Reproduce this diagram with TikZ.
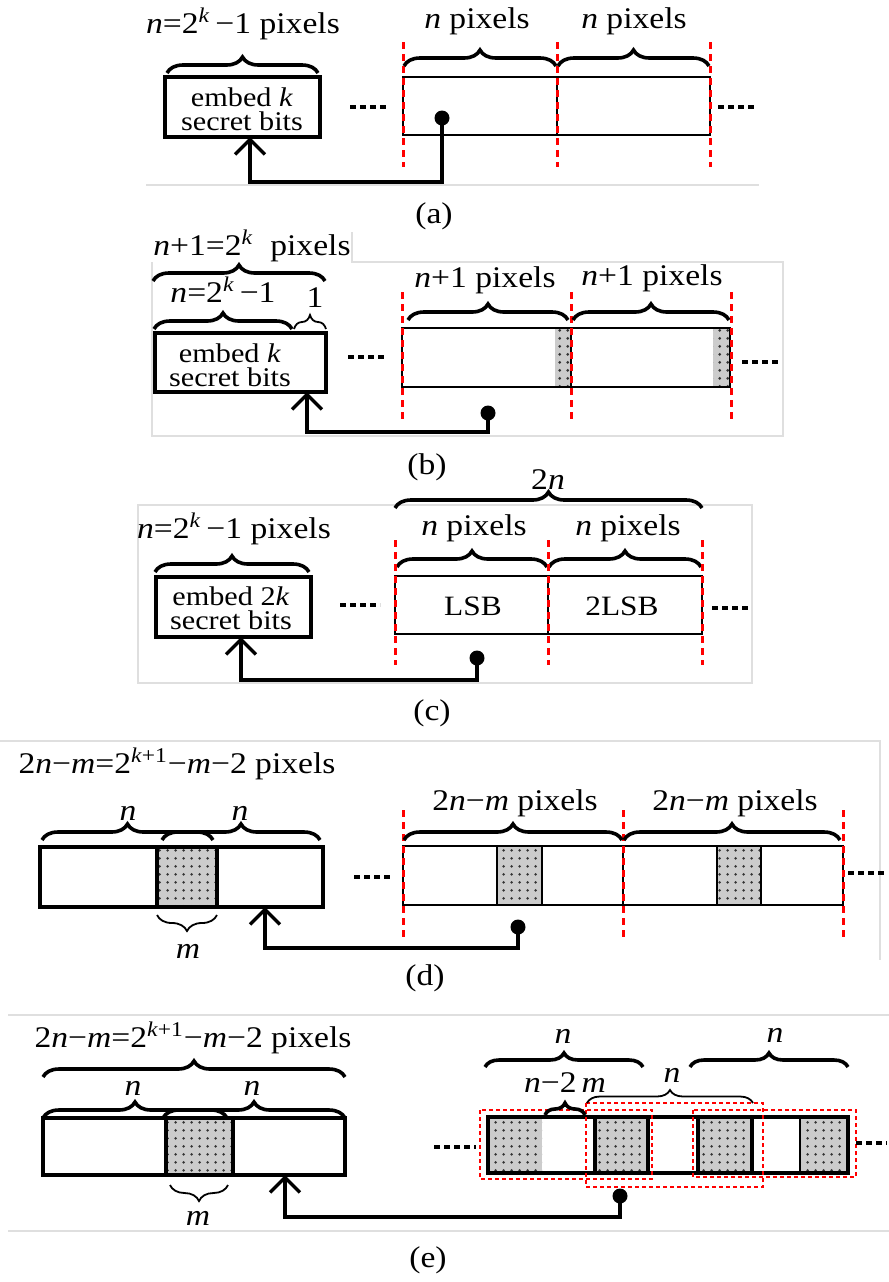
\documentclass[tikz,border=0pt]{standalone}
\usepackage{fontspec}
\setmainfont{Liberation Serif}[FakeStretch=1.12]
\usetikzlibrary{arrows.meta,decorations.pathreplacing,patterns.meta,positioning}

\begin{document}
\begin{tikzpicture}[
    x=0.5pt, y=-0.5pt,
    font=\fontsize{15}{17}\selectfont,
    every node/.style = {inner sep=0pt},
    lbl/.style     = {anchor=base},
    cell/.style    = {draw, line width=1.6pt},
    btxt/.style    = {font=\fontsize{13.5}{12}\selectfont, align=center},
    strip/.style   = {draw, line width=1.3pt},
    pix/.style     = {fill=gray!40, postaction={pattern={Dots[distance=4pt,radius=0.8pt]}, pattern color=black!80}},
    cut/.style     = {red, line width=1.5pt, dash pattern=on 3.5pt off 2.5pt},
    win/.style     = {red, line width=1.2pt, dash pattern=on 2pt off 1.5pt},
    brc/.style     = {decorate, decoration={brace, amplitude=8pt}, line width=1.8pt},
    brcthin/.style = {decorate, decoration={brace, amplitude=8pt}, line width=0.9pt},
    more/.style    = {line width=1.6pt, dash pattern=on 3pt off 2pt},
    tap/.style     = {circle, fill, minimum size=7.5pt},
    conn/.style    = {line width=1.7pt, -{Straight Barb[length=7.5pt, width=15pt]}},
    frame/.style   = {draw=gray!25, line width=0.6pt},
]
\fill[white] (0,0) rectangle (889,1282);
\useasboundingbox (0,0) rectangle (889,1282);

% ---------------- (a) ----------------
\draw[frame] (146,185) -- (759,185);
\node[lbl] (atitle) at (243,33) {\textit{n}=2\textsuperscript{\textit{k}}\,−1 pixels};
\draw[brc] (167,73) -- (318,73);
\node[cell, minimum width=77.5pt, minimum height=30pt] (abox) at (242.5,107) {};
\node[btxt] (atext) at (242,109) {embed \textit{k}\\secret bits};
\draw[more] (350,107) -- (387,107);
\draw[strip] (403,77) rectangle (710,135) (557,77) -- (557,135);
\foreach \x in {403,557,710} \draw[cut] (\x,42) -- (\x,167);
\draw[brc] (404,66) -- (556,66);
\draw[brc] (558,66) -- (709,66);
\node[lbl] (apix1) at (477,28) {\textit{n} pixels};
\node[lbl] (apix2) at (634,28) {\textit{n} pixels};
\draw[more] (718,107) -- (755,107);
\node[tap] (atap) at (442,118) {};
\coordinate (aend) at (250,137);
\draw[conn] (atap.center) -- (atap |- 0,182) -| (aend);
\node (alabel) at (434,216) {(a)};

% ---------------- (b) ----------------
\draw[frame] (352,232) -- (352,262) -- (783,262) -- (783,436) -- (152,436) -- (152,262);
\node[lbl] (btitle) at (252,255) {\textit{n}+1=2\textsuperscript{\textit{k}}\ \ pixels};
\draw[brc] (153,281) -- (325,281);
\node[lbl] (bsub) at (223,302) {\textit{n}=2\textsuperscript{\textit{k}}\,−1};
\node[lbl] (bone) at (315,307) {1};
\draw[brc] (154,329) -- (292,329);
\draw[brcthin, decoration={amplitude=7pt}] (294,329) -- (326,329);
\node[cell, minimum width=85.5pt, minimum height=29.5pt] (bbox) at (240.5,362.5) {};
\node[btxt] (btext) at (230,365.5) {embed \textit{k}\\secret bits};
\draw[more] (348,357) -- (387,357);
\fill[pix] (555,328) rectangle (571,387);
\fill[pix] (713,328) rectangle (730,387);
\draw[strip] (402,328) rectangle (730,387) (571,328) -- (571,387);
\foreach \x in {402,571,731} \draw[cut] (\x,292) -- (\x,419);
\draw[brc] (408,320) -- (568,320);
\draw[brc] (573,320) -- (729,320);
\node[lbl] (bpix1) at (485,287) {\textit{n}+1 pixels};
\node[lbl] (bpix2) at (652,285) {\textit{n}+1 pixels};
\draw[more] (742,362) -- (780,362);
\node[tap] (btap) at (488,413) {};
\coordinate (bend) at (307,392);
\draw[conn] (btap.center) -- (btap |- 0,432) -| (bend);
\node (blabel) at (427,467) {(b)};

% ---------------- (c) ----------------
\draw[frame] (138,505) rectangle (752,683);
\node[lbl] (ctwon) at (548,489) {2\textit{n}};
\draw[brc] (395,508) -- (702,508);
\node[lbl] (ctitle) at (234,538) {\textit{n}=2\textsuperscript{\textit{k}}\,−1 pixels};
\draw[brc] (155,572) -- (309,572);
\node[cell, minimum width=77.5pt, minimum height=30pt] (cbox) at (233.5,607) {};
\node[btxt] (ctext) at (231,608.5) {embed 2\textit{k}\\secret bits};
\draw[more] (340,605) -- (380,605);
\node[lbl] (cpix1) at (474,535) {\textit{n} pixels};
\node[lbl] (cpix2) at (628,535) {\textit{n} pixels};
\draw[brc] (397,567) -- (547,567);
\draw[brc] (549,567) -- (701,567);
\draw[strip] (395,576) rectangle (702,634) (548,576) -- (548,634);
\foreach \x in {395,548,702} \draw[cut] (\x,540) -- (\x,665);
\node[lbl, font=\fontsize{14}{16}\selectfont] (clsb) at (473,615) {LSB};
\node[lbl, font=\fontsize{14}{16}\selectfont] (c2lsb) at (622,615) {2LSB};
\draw[more] (712,608) -- (750,608);
\node[tap] (ctap) at (477,658) {};
\coordinate (cend) at (241,637);
\draw[conn] (ctap.center) -- (ctap |- 0,680) -| (cend);
\node (clabel) at (432,713) {(c)};

% ---------------- (d) ----------------
\draw[frame] (0,741) -- (880,741) -- (880,960);
\node[lbl] (dtitle) at (177,773) {2\textit{n}−\textit{m}=2\textsuperscript{\textit{k}+1}−\textit{m}−2 pixels};
\fill[pix] (157,847) rectangle (217,907);
\draw[cell] (40,847) rectangle (323,907) (157,847) -- (157,907) (217,847) -- (217,907);
\draw[brc] (42,840) -- (213,840);
\draw[brc] (162,840) -- (320,840);
\node[lbl] (dn1) at (128,820) {\textit{n}};
\node[lbl] (dn2) at (240,820) {\textit{n}};
\draw[brcthin] (217,915) -- (157,915);
\node[lbl] (dm) at (188,958) {\textit{m}};
\draw[more] (354,877) -- (391,877);
\fill[pix] (497,846) rectangle (542,905);
\fill[pix] (717,846) rectangle (761,905);
\draw[strip] (403,846) rectangle (843,905) (623,846) -- (623,905)
    (497,846) -- (497,905) (542,846) -- (542,905) (717,846) -- (717,905) (761,846) -- (761,905);
\foreach \x in {403,623,843} \draw[cut] (\x,810) -- (\x,937);
\draw[brc] (404,840) -- (622,840);
\draw[brc] (624,840) -- (840,840);
\node[lbl] (dpix1) at (515,810) {2\textit{n}−\textit{m} pixels};
\node[lbl] (dpix2) at (735,810) {2\textit{n}−\textit{m} pixels};
\draw[more] (848,873) -- (887,873);
\node[tap] (dtap) at (518,927) {};
\coordinate (dend) at (265,907);
\draw[conn] (dtap.center) -- (dtap |- 0,948) -| (dend);
\node (dlabel) at (425,978) {(d)};

% ---------------- (e) ----------------
\draw[frame] (8,1015) -- (889,1015);
\draw[frame] (8,1231) -- (889,1231);
\node[lbl] (etitle) at (193,1047) {2\textit{n}−\textit{m}=2\textsuperscript{\textit{k}+1}−\textit{m}−2 pixels};
\draw[brc] (43,1077) -- (345,1077);
\node[lbl] (en1) at (133,1095) {\textit{n}};
\node[lbl] (en2) at (252,1095) {\textit{n}};
\draw[brc] (43,1118) -- (227,1118);
\draw[brc] (163,1118) -- (345,1118);
\fill[pix] (166,1118) rectangle (233,1175);
\draw[cell] (43,1118) rectangle (345,1175) (166,1118) -- (166,1175) (233,1118) -- (233,1175);
\draw[brcthin] (228,1185) -- (170,1185);
\node[lbl] (em) at (198,1225) {\textit{m}};
\draw[more] (434,1147) -- (476,1147);
\fill[pix] (488,1117) rectangle (542,1173);
\fill[pix] (595,1117) rectangle (648,1173);
\fill[pix] (698,1117) rectangle (752,1173);
\fill[pix] (800,1117) rectangle (848,1173);
\draw[cell] (488,1117) rectangle (848,1173);
\foreach \x in {595,648,698,752} \draw[cell] (\x,1117) -- (\x,1173);
\draw[strip] (800,1117) -- (800,1173);
\draw[win] (480,1110) rectangle (652,1179);
\draw[win] (586,1103) rectangle (763,1187);
\draw[win] (693,1110) rectangle (856,1177);
\draw[brc, decoration={amplitude=7pt}] (485,1067) -- (643,1067);
\draw[brc, decoration={amplitude=7pt}] (690,1067) -- (848,1067);
\draw[brcthin, decoration={amplitude=6.5pt}] (587,1103) -- (753,1103);
\draw[brc, decoration={amplitude=6pt}] (545,1115) -- (585,1115);
\node[lbl] (eu1) at (563,1043) {\textit{n}};
\node[lbl] (eu2) at (775,1042) {\textit{n}};
\node[lbl] (eu3) at (672,1082) {\textit{n}};
\node[lbl] (ediff) at (565,1092) {\textit{n}−2\,\textit{m}};
\draw[more] (856,1143) -- (887,1143);
\node[tap] (etap) at (620,1196) {};
\coordinate (eend) at (285,1175);
\draw[conn] (etap.center) -- (etap |- 0,1217) -| (eend);
\node (elabel) at (428,1260) {(e)};

\end{tikzpicture}
\end{document}
